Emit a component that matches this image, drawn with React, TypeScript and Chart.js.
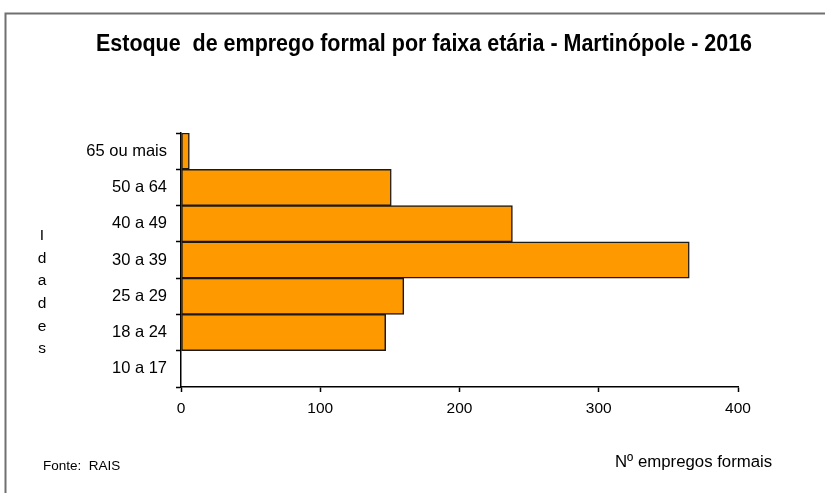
import React, { useEffect, useRef } from "react";
import { Chart, registerables } from "chart.js";

Chart.register(...registerables);

const categories = ["65 ou mais", "50 a 64", "40 a 49", "30 a 39", "25 a 29", "18 a 24", "10 a 17"];
const values = [6, 151, 238, 365, 160, 147, 0];
const xTicks = [0, 100, 200, 300, 400];
const titleText = "Estoque  de emprego formal por faixa etária - Martinópole - 2016";
const yTitleLetters = ["I", "d", "a", "d", "e", "s"];
const xTitleText = "Nº empregos formais";
const sourceText = "Fonte:  RAIS";

const W = 825;
const H = 493;

const decor = {
  id: "decor",
  beforeDraw(chart: any) {
    const ctx = chart.ctx;
    ctx.save();
    ctx.fillStyle = "#ffffff";
    ctx.fillRect(0, 0, W, H);
    ctx.restore();
  },
  afterDraw(chart: any) {
    const ctx = chart.ctx;
    ctx.save();
    // frame
    ctx.strokeStyle = "#707070";
    ctx.lineWidth = 2;
    ctx.beginPath();
    ctx.moveTo(W, 13.5);
    ctx.lineTo(5.5, 13.5);
    ctx.lineTo(5.5, H);
    ctx.stroke();
    // title (condensed)
    ctx.fillStyle = "#000000";
    ctx.font = "bold 23px 'Liberation Sans', Arial, sans-serif";
    ctx.textAlign = "center";
    ctx.textBaseline = "middle";
    const tw = ctx.measureText(titleText).width;
    const sx = 656 / tw;
    ctx.save();
    ctx.translate(424, 45);
    ctx.scale(sx, 1);
    ctx.fillText(titleText, 0, 0);
    ctx.restore();
    // y title letters
    ctx.font = "15.5px 'Liberation Sans', Arial, sans-serif";
    yTitleLetters.forEach((l, i) => {
      ctx.fillText(l, 42, 236 + i * 22.6);
    });
    // x title
    ctx.textAlign = "left";
    ctx.font = "16.8px 'Liberation Sans', Arial, sans-serif";
    ctx.fillText(xTitleText, 615, 462);
    // source
    ctx.font = "13.5px 'Liberation Sans', Arial, sans-serif";
    ctx.fillText(sourceText, 43, 466);
    ctx.restore();
  },
};

export default function App() {
  const ref = useRef<HTMLCanvasElement | null>(null);
  useEffect(() => {
    if (!ref.current) return;
    const chart = new Chart(ref.current, {
      type: "bar",
      data: {
        labels: categories,
        datasets: [
          {
            data: values,
            backgroundColor: "#FF9900",
            borderColor: "#1a1a1a",
            borderWidth: 1.5,
            borderSkipped: false,
            barPercentage: 1,
            categoryPercentage: 1,
          },
        ],
      },
      options: {
        indexAxis: "y",
        responsive: false,
        animation: false,
        events: [],
        layout: { padding: { top: 133, left: 0, right: W - 738, bottom: 0 } },
        plugins: {
          legend: { display: false },
          tooltip: { enabled: false },
          title: { display: false },
        },
        scales: {
          x: {
            type: "linear",
            min: 0,
            max: 400,
            afterBuildTicks(scale: any) {
              scale.ticks = xTicks.map((v) => ({ value: v }));
            },
            afterFit(scale: any) {
              scale.height = H - 387;
            },
            ticks: {
              color: "#000000",
              padding: 7,
              font: { family: "'Liberation Sans', Arial, sans-serif", size: 15.5 },
            },
            grid: {
              drawOnChartArea: false,
              drawTicks: true,
              tickLength: 5,
              tickColor: "#000000",
              tickWidth: 1.5,
            },
            border: { display: true, color: "#000000", width: 1.5 },
          },
          y: {
            type: "category",
            afterFit(scale: any) {
              scale.width = 181;
            },
            ticks: {
              color: "#000000",
              padding: 9,
              font: { family: "'Liberation Sans', Arial, sans-serif", size: 16.5 },
            },
            grid: {
              offset: true,
              drawOnChartArea: false,
              drawTicks: true,
              tickLength: 5,
              tickColor: "#000000",
              tickWidth: 1.5,
            },
            border: { display: true, color: "#000000", width: 1.5 },
          },
        },
      },
      plugins: [decor],
    } as any);
    return () => chart.destroy();
  }, []);
  return (
    <div style={{ position: "absolute", left: 0, top: 0, width: W, height: H }}>
      <canvas ref={ref} width={W} height={H} style={{ display: "block", width: W, height: H }} />
    </div>
  );
}
